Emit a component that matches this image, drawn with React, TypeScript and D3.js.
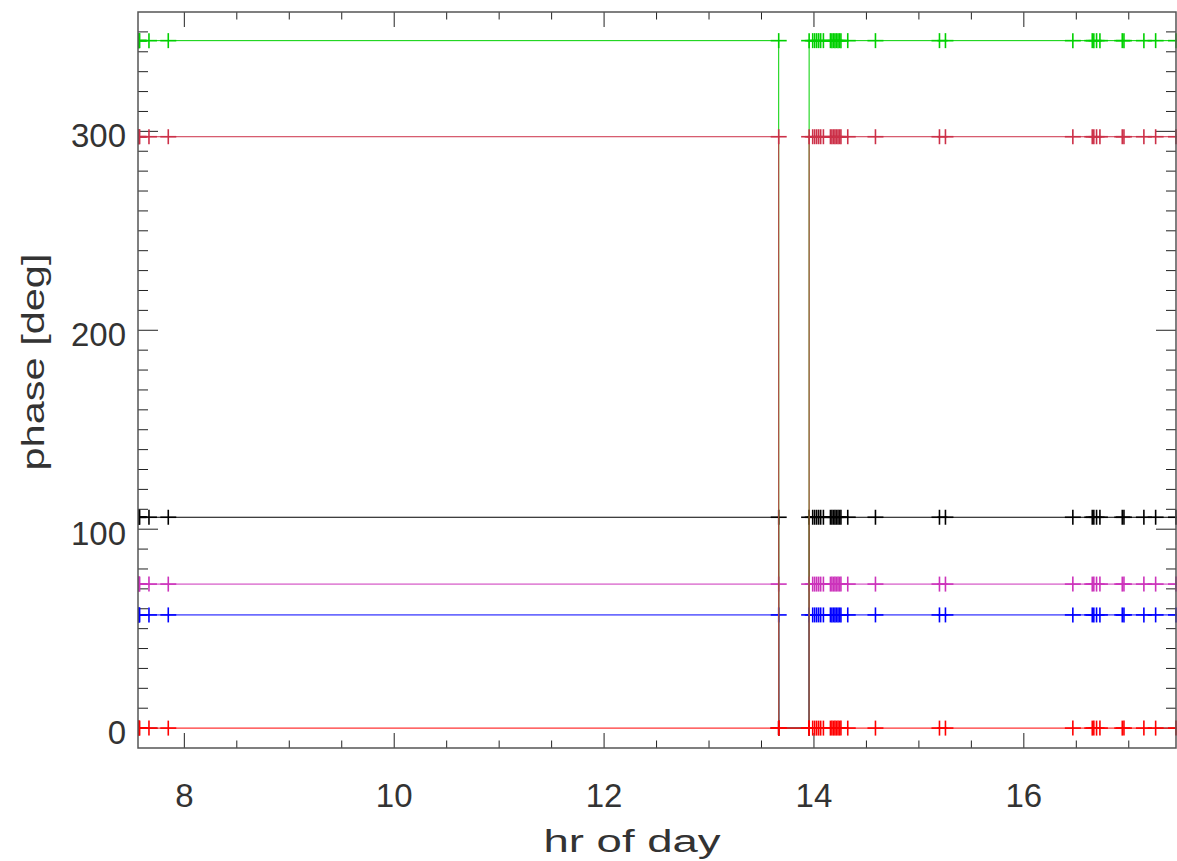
import React from "react";
import * as d3 from "d3";

// hour of day for each sample
const hours = [
  7.559, 7.564, 7.569, 7.574, 7.663, 7.847,
  13.664, 13.6645, 13.9535, 13.954,
  13.988, 14.007, 14.026, 14.045, 14.064, 14.09,
  14.157, 14.171, 14.186, 14.2, 14.214, 14.229, 14.243, 14.257,
  14.322, 14.586, 15.196, 15.253,
  16.467, 16.652, 16.667, 16.693, 16.725, 16.938, 16.954,
  17.144, 17.256, 17.45,
];

const blackPhase = [
  106, 106, 106, 106, 106, 106,
  106, 0, 0, 106,
  106, 106, 106, 106, 106, 106,
  106, 106, 106, 106, 106, 106, 106, 106,
  106, 106, 106, 106,
  106, 106, 106, 106, 106, 106, 106,
  106, 106, 106,
];
const bluePhase = [
  56.9, 56.9, 56.9, 56.9, 56.9, 56.9,
  56.9, 0, 0, 56.9,
  56.9, 56.9, 56.9, 56.9, 56.9, 56.9,
  56.9, 56.9, 56.9, 56.9, 56.9, 56.9, 56.9, 56.9,
  56.9, 56.9, 56.9, 56.9,
  56.9, 56.9, 56.9, 56.9, 56.9, 56.9, 56.9,
  56.9, 56.9, 56.9,
];
const magentaPhase = [
  72.4, 72.4, 72.4, 72.4, 72.4, 72.4,
  72.4, 0, 0, 72.4,
  72.4, 72.4, 72.4, 72.4, 72.4, 72.4,
  72.4, 72.4, 72.4, 72.4, 72.4, 72.4, 72.4, 72.4,
  72.4, 72.4, 72.4, 72.4,
  72.4, 72.4, 72.4, 72.4, 72.4, 72.4, 72.4,
  72.4, 72.4, 72.4,
];
const greenPhase = [
  345.6, 345.6, 345.6, 345.6, 345.6, 345.6,
  345.6, 0, 0, 345.6,
  345.6, 345.6, 345.6, 345.6, 345.6, 345.6,
  345.6, 345.6, 345.6, 345.6, 345.6, 345.6, 345.6, 345.6,
  345.6, 345.6, 345.6, 345.6,
  345.6, 345.6, 345.6, 345.6, 345.6, 345.6, 345.6,
  345.6, 345.6, 345.6,
];
const crimsonPhase = [
  297.3, 297.3, 297.3, 297.3, 297.3, 297.3,
  297.3, 0, 0, 297.3,
  297.3, 297.3, 297.3, 297.3, 297.3, 297.3,
  297.3, 297.3, 297.3, 297.3, 297.3, 297.3, 297.3, 297.3,
  297.3, 297.3, 297.3, 297.3,
  297.3, 297.3, 297.3, 297.3, 297.3, 297.3, 297.3,
  297.3, 297.3, 297.3,
];
const redPhase = [
  0, 0, 0, 0, 0, 0,
  0, 0, 0, 0,
  0, 0, 0, 0, 0, 0,
  0, 0, 0, 0, 0, 0, 0, 0,
  0, 0, 0, 0,
  0, 0, 0, 0, 0, 0, 0,
  0, 0, 0,
];

const seriesNames = ["black", "blue", "magenta", "green", "crimson", "red"];
const seriesColors = ["#000000", "#0000ff", "#cc33bb", "#00d000", "#cc3048", "#ff0000"];
const seriesValues = [blackPhase, bluePhase, magentaPhase, greenPhase, crimsonPhase, redPhase];

const xMajorTicks = [8, 10, 12, 14, 16];
const yMajorTicks = [0, 100, 200, 300];

const W = 1177;
const H = 861;
const M = { left: 138, right: 1176, top: 12, bottom: 748 };

export default function App() {
  const x = d3.scaleLinear().domain([7.5585, 17.45]).range([M.left, M.right]);
  const y = d3.scaleLinear().domain([-10, 360]).range([M.bottom, M.top]);

  const xMinor = d3.range(7.5, 17.5 + 1e-9, 0.5).filter((v) => v >= 7.5585 && v <= 17.45 && !xMajorTicks.includes(v));
  const yMinor = d3.range(-10, 361, 10).filter((v) => !yMajorTicks.includes(v) && v > -10 && v < 360);

  const line = d3
    .line<[number, number]>()
    .x((d) => x(d[0]))
    .y((d) => y(d[1]));

  const textColor = "#333";
  const font = "'Liberation Sans', Arial, Helvetica, sans-serif";

  return (
    <svg width={W} height={H} style={{ position: "absolute", left: 0, top: 0, background: "#fff" }}>
      <rect x={0} y={0} width={W} height={H} fill="#fff" />
      <defs>
        <clipPath id="plotClip">
          <rect x={M.left} y={M.top} width={M.right - M.left + 2} height={M.bottom - M.top} />
        </clipPath>
      </defs>

      {/* ticks */}
      <g stroke="#222" strokeWidth={1}>
        {xMajorTicks.map((t) => (
          <g key={"xm" + t}>
            <line x1={x(t)} x2={x(t)} y1={M.bottom} y2={M.bottom - 15} />
            <line x1={x(t)} x2={x(t)} y1={M.top} y2={M.top + 15} />
          </g>
        ))}
        {xMinor.map((t) => (
          <g key={"xn" + t}>
            <line x1={x(t)} x2={x(t)} y1={M.bottom} y2={M.bottom - 7.5} />
            <line x1={x(t)} x2={x(t)} y1={M.top} y2={M.top + 7.5} />
          </g>
        ))}
        {yMajorTicks.map((t) => (
          <g key={"ym" + t}>
            <line x1={M.left} x2={M.left + 20} y1={y(t)} y2={y(t)} />
            <line x1={M.right} x2={M.right - 20} y1={y(t)} y2={y(t)} />
          </g>
        ))}
        {yMinor.map((t) => (
          <g key={"yn" + t}>
            <line x1={M.left} x2={M.left + 10} y1={y(t)} y2={y(t)} />
            <line x1={M.right} x2={M.right - 10} y1={y(t)} y2={y(t)} />
          </g>
        ))}
      </g>

      {/* data */}
      <g clipPath="url(#plotClip)">
        {seriesValues.map((vals, si) => {
          const pts: [number, number][] = hours.map((h, i) => [h, vals[i]]);
          return (
            <g key={seriesNames[si]} stroke={seriesColors[si]} fill="none">
              <path d={line(pts) || ""} strokeWidth={1} />
              {pts.map((p, i) => (
                <g key={i} strokeWidth={1.6}>
                  <line x1={x(p[0]) - 8} x2={x(p[0]) + 8} y1={y(p[1])} y2={y(p[1])} />
                  <line x1={x(p[0])} x2={x(p[0])} y1={y(p[1]) - 7.5} y2={y(p[1]) + 7.5} />
                </g>
              ))}
            </g>
          );
        })}
      </g>

      {/* frame */}
      <rect x={M.left} y={M.top} width={M.right - M.left} height={M.bottom - M.top} fill="none" stroke="#555" strokeWidth={1.5} />

      {/* tick labels */}
      <g fill={textColor} fontFamily={font} fontSize={33}>
        {xMajorTicks.map((t) => (
          <text key={"xl" + t} x={x(t)} y={807} textAnchor="middle">
            {t}
          </text>
        ))}
        {yMajorTicks.map((t) => (
          <text key={"yl" + t} x={126} y={y(t) + 16} textAnchor="end">
            {t}
          </text>
        ))}
      </g>

      {/* axis titles */}
      <text
        x={632}
        y={852}
        textAnchor="middle"
        fill={textColor}
        fontFamily={font}
        fontSize={31}
        textLength={177}
        lengthAdjust="spacingAndGlyphs"
      >
        hr of day
      </text>
      <text
        transform={`translate(44, 362) rotate(-90)`}
        textAnchor="middle"
        fill={textColor}
        fontFamily={font}
        fontSize={31}
        textLength={217}
        lengthAdjust="spacingAndGlyphs"
      >
        phase [deg]
      </text>
    </svg>
  );
}
